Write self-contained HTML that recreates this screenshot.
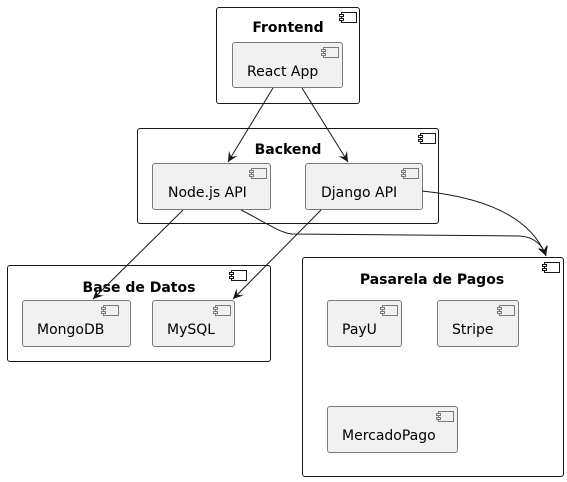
<!DOCTYPE html>
<html><head><meta charset="utf-8"><style>
html,body{margin:0;padding:0;background:#fff;}
svg{display:block;}
.t{font-family:"DejaVu Sans","Liberation Sans",sans-serif;font-weight:bold;font-size:14px;fill:#000;}
.c{font-family:"DejaVu Sans","Liberation Sans",sans-serif;font-size:14px;fill:#000;}
.pk{fill:#fff;stroke:#181818;stroke-width:1;}
.cp{fill:#f1f1f1;stroke:#7a7a7a;stroke-width:1;}
.ln{fill:none;stroke:#181818;stroke-width:1;}
</style></head><body>
<svg width="567" height="482" viewBox="0 0 567 482" xmlns="http://www.w3.org/2000/svg">
<defs>
<g id="ico"><rect x="0" y="0" width="15" height="10" fill="none" stroke="#181818"/><rect x="-2" y="2" width="4" height="2" fill="#fff" stroke="#181818"/><rect x="-2" y="6" width="4" height="2" fill="#fff" stroke="#181818"/></g>
<g id="ico2"><rect x="0" y="0" width="15" height="10" fill="none" stroke="#7a7a7a"/><rect x="-2" y="2" width="4" height="2" fill="#f1f1f1" stroke="#7a7a7a"/><rect x="-2" y="6" width="4" height="2" fill="#f1f1f1" stroke="#7a7a7a"/></g>
<marker id="ar" markerWidth="12" markerHeight="10" refX="10" refY="5" orient="auto" markerUnits="userSpaceOnUse"><path d="M0,0 L10,5 L0,10 L4,5 Z" fill="#181818"/></marker>
</defs>

<!-- Frontend -->
<rect class="pk" x="216.5" y="7.5" width="143" height="96" rx="2.5"/>
<use href="#ico" x="341.5" y="12.5"/>
<text class="t" x="288" y="32" text-anchor="middle">Frontend</text>
<rect class="cp" x="232.5" y="42.5" width="110" height="45" rx="2.5"/>
<use href="#ico2" x="323.5" y="47.5"/>
<text class="c" x="247" y="76">React App</text>

<!-- Backend -->
<rect class="pk" x="137.5" y="128.5" width="301" height="95" rx="2.5"/>
<use href="#ico" x="420.5" y="133.5"/>
<text class="t" x="288" y="154" text-anchor="middle">Backend</text>
<rect class="cp" x="152.5" y="163.5" width="118" height="46" rx="2.5"/>
<use href="#ico2" x="251.5" y="168.5"/>
<text class="c" x="168" y="197">Node.js API</text>
<rect class="cp" x="305.5" y="163.5" width="117" height="46" rx="2.5"/>
<use href="#ico2" x="403.5" y="168.5"/>
<text class="c" x="321" y="197">Django API</text>

<!-- Base de Datos -->
<rect class="pk" x="7.5" y="265.5" width="263" height="96" rx="2.5"/>
<use href="#ico" x="231.5" y="270.5"/>
<text class="t" x="139" y="292" text-anchor="middle">Base de Datos</text>
<rect class="cp" x="22.5" y="300.5" width="108" height="46" rx="2.5"/>
<use href="#ico2" x="103.5" y="305.5"/>
<text class="c" x="37" y="334">MongoDB</text>
<rect class="cp" x="152.5" y="300.5" width="82" height="46" rx="2.5"/>
<use href="#ico2" x="215.5" y="305.5"/>
<text class="c" x="167" y="334">MySQL</text>

<!-- Pasarela de Pagos -->
<rect class="pk" x="302.5" y="257.5" width="261" height="219" rx="2.5"/>
<use href="#ico" x="544.5" y="262.5"/>
<text class="t" x="432" y="284" text-anchor="middle">Pasarela de Pagos</text>
<rect class="cp" x="327.5" y="300.5" width="74" height="46" rx="2.5"/>
<use href="#ico2" x="382.5" y="305.5"/>
<text class="c" x="342" y="334">PayU</text>
<rect class="cp" x="437.5" y="300.5" width="81" height="46" rx="2.5"/>
<use href="#ico2" x="499.5" y="305.5"/>
<text class="c" x="452" y="334">Stripe</text>
<rect class="cp" x="327.5" y="406.5" width="130" height="46" rx="2.5"/>
<use href="#ico2" x="438.5" y="411.5"/>
<text class="c" x="342" y="440">MercadoPago</text>

<!-- connectors -->
<path class="ln" d="M273,88 L228,162" marker-end="url(#ar)"/>
<path class="ln" d="M302,88 L348,162" marker-end="url(#ar)"/>
<path class="ln" d="M183,210 L93,299" marker-end="url(#ar)"/>
<path class="ln" d="M321,210 L233,299" marker-end="url(#ar)"/>
<path class="ln" d="M241,210 C265,222 280,233 292,234 L520,236 C535,237 543,246 546,256" marker-end="url(#ar)"/>
<path class="ln" d="M422,191 C480,197 530,215 546,256" marker-end="url(#ar)"/>
</svg>
</body></html>
